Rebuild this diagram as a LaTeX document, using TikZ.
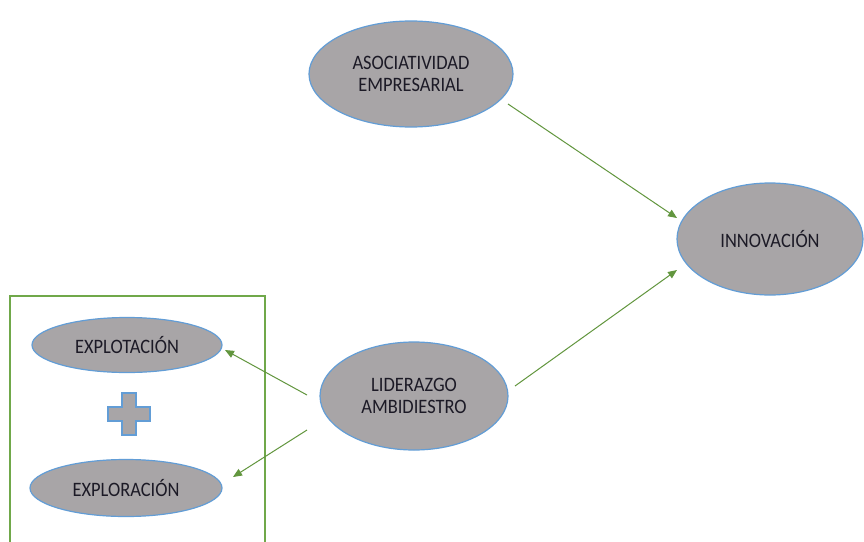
\documentclass[tikz,border=0pt]{standalone}
\usepackage{fontspec}
\setmainfont{Carlito}[FakeStretch=0.9]
\usetikzlibrary{arrows.meta,calc,shapes.geometric}
\definecolor{ellfill}{RGB}{168,165,167}
\definecolor{ellline}{RGB}{98,157,214}
\definecolor{arrgreen}{RGB}{98,150,62}
\definecolor{boxgreen}{RGB}{112,168,74}
\definecolor{txt}{RGB}{28,26,38}
\tikzset{
  ell/.style={ellipse, draw=ellline, line width=1.2pt, fill=ellfill, inner sep=0pt,
    align=center, text=txt, font=\fontsize{20.5}{22}\selectfont},
  arr/.style={draw=arrgreen, line width=1pt, -{Triangle[length=9pt,width=7.5pt]}},
}
\begin{document}
\begin{tikzpicture}[x=1pt,y=-1pt]
\useasboundingbox (0,0) rectangle (864,541);
\clip (0,0) rectangle (864,541);
\fill[white] (0,0) rectangle (864,541);
% group box
\draw[boxgreen, line width=1.3pt] (10,560) -- (10,296) -- (265,296) -- (265,560);
% nodes
\node[ell, minimum width=204, minimum height=106] (asoc) at (411,74) {ASOCIATIVIDAD\\EMPRESARIAL};
\node[ell, minimum width=186, minimum height=112] (inn) at (770,239) {INNOVACIÓN};
\node[ell, minimum width=188, minimum height=108] (lid) at (414,396) {LIDERAZGO\\AMBIDIESTRO};
\node[ell, minimum width=190, minimum height=55] (explot) at (127,345) {EXPLOTACIÓN};
\node[ell, minimum width=192, minimum height=57] (explor) at (126,488) {EXPLORACIÓN};
% plus sign
\filldraw[fill=ellfill, draw=ellline, line width=1.1pt]
  (122,393) -- (136,393) -- (136,407) -- (150,407) -- (150,421) -- (136,421)
  -- (136,435) -- (122,435) -- (122,421) -- (108,421) -- (108,407) -- (122,407) -- cycle;
% connectors
\draw[arr] ($(asoc.center)+(97,30)$) -- ($(inn.center)+(-93,-21)$);
\draw[arr] ($(lid.center)+(101,-10)$) -- ($(inn.center)+(-93,31)$);
\draw[arr] ($(lid.center)+(-107,-1)$) -- ($(explot.center)+(98,5)$);
\draw[arr] ($(lid.center)+(-107,34)$) -- ($(explor.center)+(107,-11)$);
\end{tikzpicture}
\end{document}
